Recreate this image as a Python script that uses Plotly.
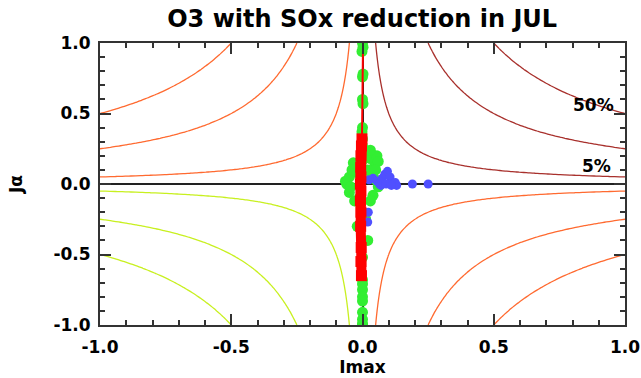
import numpy as np
import plotly.graph_objects as go

# ---------------- data ----------------
levels = [0.05, 0.25, 0.5]                 # contour levels of Imax*Ja (5%, 25%, 50%)
level_labels = ["50%", "5%"]
label_x = [0.88, 0.89]
label_y = [0.56, 0.13]

green_x = [0.0, 0.002, -0.002, 0.002, 0.0, 0.0, 0.002, 0.0, -0.002, 0.0, 0.0, 0.003, -0.003,
           -0.035, 0.03, 0.045, -0.05, -0.06, 0.05, 0.06, -0.05, 0.04, -0.03, 0.02,
           -0.02, 0.03, 0.055, 0.06, -0.065, 0.065, -0.04, 0.035, 0.03, -0.045, 0.05,
           0.0, -0.02, 0.02, 0.012, -0.012,
           0.0, 0.0, 0.0, 0.0, 0.0, 0.0, 0.0, 0.0, 0.0, 0.0]
green_y = [1.0, 0.97, 0.94, 0.78, 0.76, 0.6, 0.57, 0.4, 0.37, 0.32, 0.27, 0.22, 0.16,
           0.15, 0.18, 0.12, 0.05, 0.0, 0.03, -0.02, -0.06, -0.08, -0.12, 0.1,
           0.08, -0.12, 0.2, 0.16, 0.02, 0.0, 0.1, 0.06, 0.24, -0.02, 0.1,
           -0.2, -0.3, -0.4, -0.25, -0.1,
           -0.52, -0.68, -0.71, -0.75, -0.8, -0.83, -0.91, -0.96, -0.99, -1.0]

red_x = [0.002, 0.001, 0.0, -0.002, -0.004, -0.006, -0.007, -0.006, -0.008, -0.006,
         -0.008, -0.006, -0.007, -0.005, -0.006, -0.004]
red_y = [1.0, 0.7, 0.45, 0.32, 0.27, 0.2, 0.12, 0.05, 0.0, -0.05,
         -0.12, -0.2, -0.3, -0.45, -0.55, -0.65]

blue_x = [0.025, 0.04, 0.055, 0.065, 0.075, 0.085, 0.095, 0.105, 0.115, 0.125, 0.13,
          0.07, 0.09, 0.11, 0.19, 0.25, 0.022, 0.02]
blue_y = [0.03, 0.04, 0.02, 0.0, 0.04, 0.07, 0.09, 0.05, 0.0, 0.01, -0.01,
          -0.01, 0.0, -0.01, 0.0, 0.0, -0.2, -0.27]

tick_vals = [-1.0, -0.5, 0.0, 0.5, 1.0]
tick_text = ["-1.0", "-0.5", "0.0", "0.5", "1.0"]

# ---------------- styles ----------------
ORANGE = "#FF6A30"
DARKRED = "#A8302C"
YGREEN = "#C8F020"
GREEN = "#33EE33"
BLUE = "#5050FF"
RED = "#FF0000"
FRAME = "#333333"
FONT = "DejaVu Sans"

# contour grid (denser near zero)
t = np.linspace(-1, 1, 161)
g = np.sign(t) * np.abs(t) ** 1.6
X, Y = np.meshgrid(g, g)
Z = X * Y
Z_ur = np.where((X > 0) & (Y > 0), Z, 0.0)
Z_ll = np.where((X < 0) & (Y < 0), Z, 0.0)

fig = go.Figure()

def add_contour(z, level, color):
    fig.add_trace(go.Contour(
        x=g, y=g, z=np.round(z, 6), autocontour=False,
        contours=dict(start=level, end=level, size=1, coloring="lines", showlabels=False),
        colorscale=[[0, color], [1, color]], showscale=False,
        line=dict(width=1.3), hoverinfo="skip"))

for lv in levels:
    add_contour(Z, -lv, ORANGE)
    add_contour(Z_ur, lv, DARKRED)
    add_contour(Z_ll, lv, YGREEN)

fig.add_trace(go.Scatter(x=green_x, y=green_y, mode="markers",
                         marker=dict(color=GREEN, size=11, line=dict(width=0)),
                         hoverinfo="skip"))
fig.add_trace(go.Scatter(x=blue_x, y=blue_y, mode="markers",
                         marker=dict(color=BLUE, size=9, line=dict(width=0)),
                         hoverinfo="skip"))
fig.add_trace(go.Scatter(x=red_x, y=red_y, mode="lines",
                         line=dict(color=RED, width=2), hoverinfo="skip"))
rx = [x for x, y in zip(red_x, red_y) if y <= 0.32]
ry = [y for y in red_y if y <= 0.32]
fig.add_trace(go.Scatter(x=rx, y=ry, mode="lines+markers",
                         line=dict(color=RED, width=10),
                         marker=dict(color=RED, size=11, symbol="square"),
                         hoverinfo="skip"))

for txt, lx, ly in zip(level_labels, label_x, label_y):
    fig.add_annotation(x=lx, y=ly, text=txt, showarrow=False,
                       font=dict(family=FONT, size=17, color="black", weight="bold"))

axis_common = dict(
    range=[-1, 1], tickvals=tick_vals, ticktext=tick_text, automargin=False,
    ticks="inside", ticklen=11, tickwidth=1.5, tickcolor=FRAME,
    minor=dict(dtick=0.1, ticks="inside", ticklen=5, tickwidth=1.5, tickcolor=FRAME, showgrid=False),
    showline=True, linecolor=FRAME, linewidth=2, mirror="allticks",
    showgrid=False, zeroline=True, zerolinecolor="#222222", zerolinewidth=1.5,
    tickfont=dict(family=FONT, size=17, color="black", weight="bold"),
)

fig.update_layout(
    width=641, height=378,
    margin=dict(l=100, r=16, t=43, b=53),
    paper_bgcolor="white", plot_bgcolor="white",
    showlegend=False,
    title=dict(text="O3 with SOx reduction in JUL", x=0.565, xanchor="center",
               y=0.95, yanchor="middle",
               font=dict(family=FONT, size=24, color="black", weight="bold")),
    xaxis=dict(**axis_common, ticklabelstandoff=6,
               title=dict(text="Imax", standoff=0,
                          font=dict(family=FONT, size=17, color="black", weight="bold"))),
    yaxis=dict(**axis_common, ticklabelstandoff=4,
               title=dict(text="Jα", standoff=26,
                          font=dict(family=FONT, size=17, color="black", weight="bold"))),
)

fig.write_html("out.html")
